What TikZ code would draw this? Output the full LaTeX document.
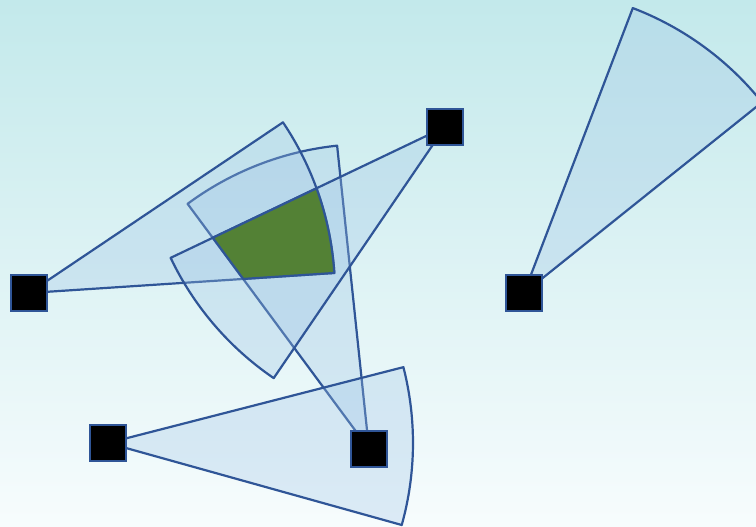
\documentclass[tikz,border=0pt]{standalone}
\usepackage{tikz}
\definecolor{bgtop}{HTML}{C3E9EB}
\definecolor{bgbottom}{HTML}{F7FCFD}
\definecolor{sectorfill}{HTML}{9DC3E6}
\definecolor{edgeblue}{HTML}{2F5597}
\definecolor{zonegreen}{HTML}{538135}

\begin{document}
\begin{tikzpicture}[
		x=1pt, y=1pt,
		sector/.style={fill=sectorfill, fill opacity=0.3, draw=edgeblue,
			line width=2.2pt, line join=round},
		hitzone/.style={fill=zonegreen, draw=edgeblue, line width=2.2pt,
			line join=round},
		sensor/.style={draw=edgeblue, fill=black, line width=2.4pt,
			minimum size=36pt, inner sep=0pt},
		]
		% Frame and background
		\useasboundingbox (0,0) rectangle (756,527);
		\shade[top color=bgtop, bottom color=bgbottom] (0,0) rectangle (756,527);

		% Sensor positions
		\coordinate (sa) at (29,234);
		\coordinate (sb) at (445,400);
		\coordinate (sc) at (369,78);
		\coordinate (sd) at (108,84);
		\coordinate (se) at (524,234);

		% Coverage sectors
		\foreach \s/\r/\a/\b in {sc/305/96/126.5, sa/306/3.75/33.9,
				sb/304/205.5/235.7, sd/305/-15.6/14.4, se/305/38.7/69.1} {
			\filldraw[sector] (\s) -- ++(\a:\r)
				arc[start angle=\a, end angle=\b, radius=\r] -- cycle;
		}

		% Edge ends used for the common zone
		\path (sa) ++(3.75:306) coordinate (a1);
		\path (sb) ++(205.5:304) coordinate (b1);
		\path (sc) ++(126.5:305) coordinate (c2);

		% Common zone of three sectors
		\filldraw[hitzone] (intersection of sb--b1 and sc--c2)
			-- ([shift={(20:306)}]sa) arc[start angle=20, end angle=3.75, radius=306]
			-- (intersection of sa--a1 and sc--c2) -- cycle;

		% Sensors
		\foreach \s in {sa, sb, sc, sd, se} {
			\node[sensor] (n\s) at (\s) {};
		}
	\end{tikzpicture}
\end{document}
